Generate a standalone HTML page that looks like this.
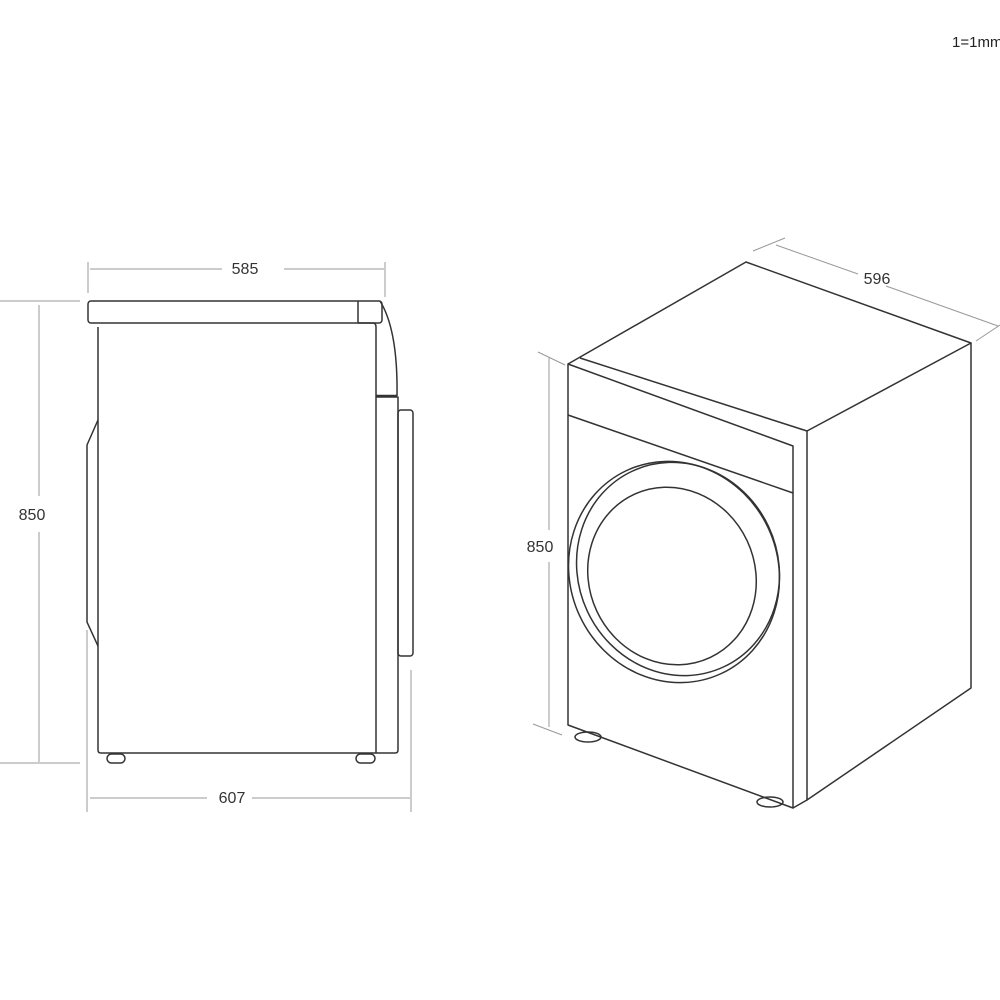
<!DOCTYPE html>
<html><head><style>html,body{margin:0;padding:0;background:#fff;width:1000px;height:1000px;overflow:hidden}</style></head>
<body>
<svg width="1000" height="1000" viewBox="0 0 1000 1000" xmlns="http://www.w3.org/2000/svg" font-family="Liberation Sans, sans-serif">
<text x="952" y="47" font-size="15" fill="#222">1=1mm</text>
<g stroke="#999" stroke-width="1" fill="none">
<line x1="88" y1="262" x2="88" y2="293"/><line x1="385" y1="262" x2="385" y2="297"/>
<line x1="90" y1="269" x2="222" y2="269"/><line x1="284" y1="269" x2="384" y2="269"/>
<line x1="0" y1="301" x2="80" y2="301"/><line x1="0" y1="763" x2="80" y2="763"/>
<line x1="39" y1="305" x2="39" y2="496"/><line x1="39" y1="532" x2="39" y2="762"/>
<line x1="87" y1="630" x2="87" y2="812"/><line x1="411" y1="670" x2="411" y2="812"/>
<line x1="90" y1="798" x2="207" y2="798"/><line x1="252" y1="798" x2="410" y2="798"/>
<line x1="538" y1="352" x2="565" y2="365"/><line x1="533" y1="724" x2="562" y2="735"/>
<line x1="549" y1="358" x2="549" y2="530"/><line x1="549" y1="562" x2="549" y2="727"/>
<line x1="753" y1="251" x2="785" y2="238"/><line x1="976" y1="341" x2="1000" y2="325"/>
<line x1="776" y1="245" x2="858" y2="274"/><line x1="886" y1="286" x2="998" y2="326"/>
</g>
<g fill="#333" font-size="16">
<text x="245" y="274" text-anchor="middle">585</text>
<text x="32" y="520" text-anchor="middle">850</text>
<text x="232" y="803" text-anchor="middle">607</text>
<text x="540" y="552" text-anchor="middle">850</text>
<text x="877" y="284" text-anchor="middle">596</text>
</g>
<g stroke="#333" stroke-width="1.5" fill="none" stroke-linejoin="round">
<rect x="88" y="301" width="294" height="22" rx="3"/>
<line x1="358" y1="301" x2="358" y2="323"/>
<path d="M380 301 Q398 330 397 396"/>
<path d="M358 323 H373 Q376 323 376 327 V753"/>
<path d="M98 327 V750 Q98 753 101 753 H395 Q398 753 398 750 V397 H376"/>
<line x1="376" y1="396" x2="397" y2="396" stroke-width="2.5"/>
<rect x="398" y="410" width="15" height="246" rx="3"/>
<path d="M98 420 L87 445 V622 L98 646"/>
<rect x="107" y="754" width="18" height="9" rx="4.5"/>
<rect x="356" y="754" width="19" height="9" rx="4.5"/>
<path d="M568 364 L746 262 L971 343 L807 431"/>
<line x1="580" y1="358" x2="807" y2="431"/>
<path d="M568 364 L793 446 V808 L568 725 Z"/>
<line x1="568" y1="415" x2="793" y2="493"/>
<path d="M807 431 V800 L971 688 V343"/>
<line x1="793" y1="808" x2="807" y2="800"/>
<ellipse cx="674" cy="572" rx="104" ry="112" transform="rotate(-25 674 572)"/>
<ellipse cx="678" cy="569" rx="100" ry="108" transform="rotate(-25 678 569)"/>
<ellipse cx="672" cy="576" rx="83" ry="90" transform="rotate(-25 672 576)"/>
<ellipse cx="588" cy="737" rx="13" ry="5"/>
<ellipse cx="770" cy="802" rx="13" ry="5"/>
</g>
</svg>
</body></html>
